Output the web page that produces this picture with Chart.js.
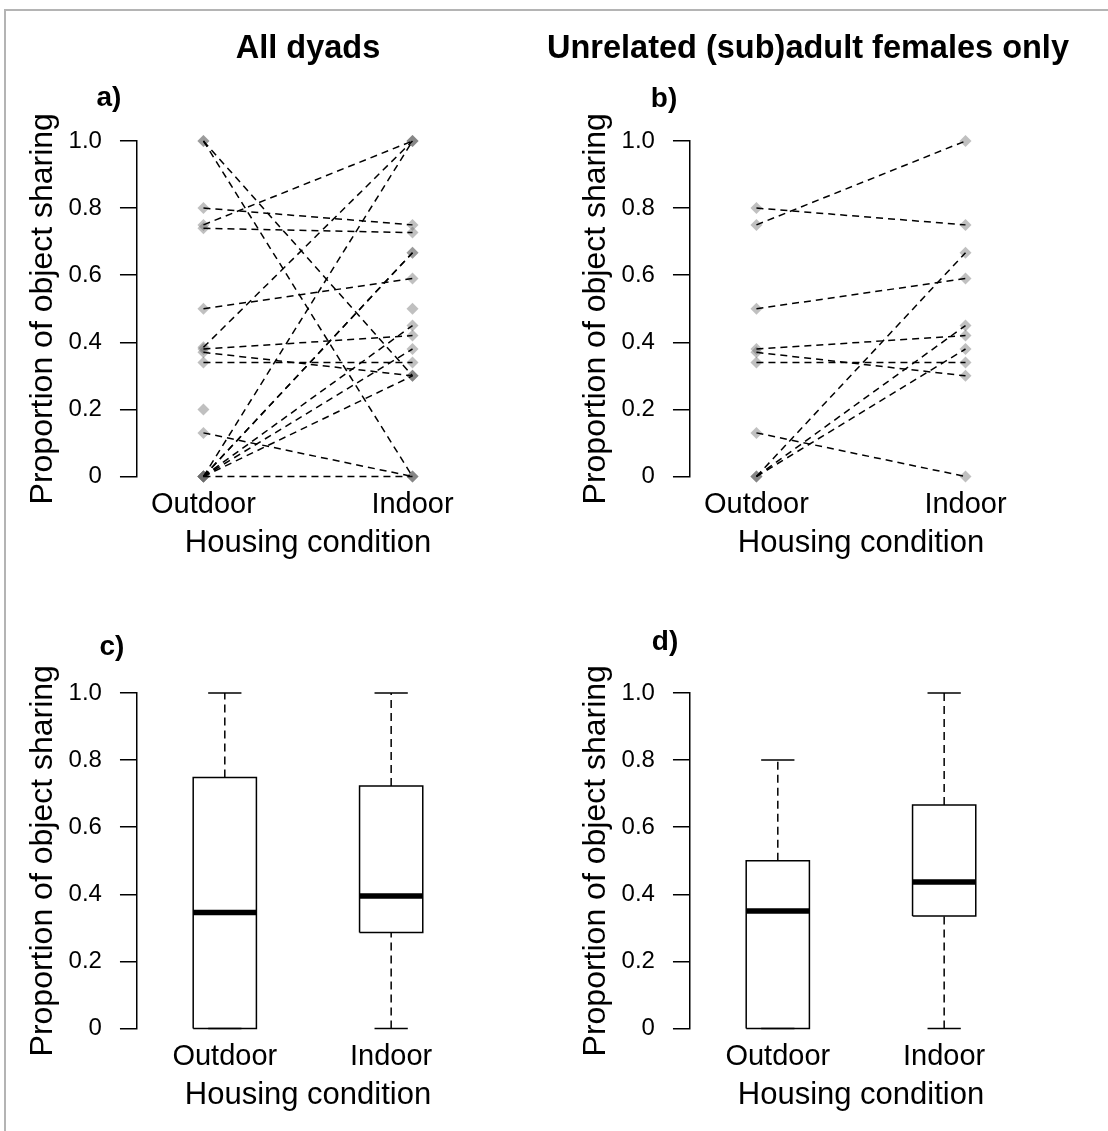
<!DOCTYPE html>
<html><head><meta charset="utf-8">
<script src="https://cdn.jsdelivr.net/npm/chart.js@4.4.1/dist/chart.umd.min.js"></script>
<style>
html,body{margin:0;padding:0;background:#fff;}
body{width:1108px;height:1131px;position:relative;overflow:hidden;font-family:"Liberation Sans",Arial,sans-serif;}
#frame{position:absolute;left:4px;top:9px;right:-4px;bottom:-4px;border-top:2px solid #b4b4b4;border-left:2px solid #b4b4b4;}
canvas{position:absolute;}
.lbl{position:absolute;font-weight:bold;color:#000;white-space:nowrap;transform:translate(-50%,-50%);line-height:1;}
</style></head><body>
<div id="frame"></div>
<canvas id="ca" width="554" height="575" style="left:0px;top:0px"></canvas>
<canvas id="cb" width="554" height="575" style="left:553px;top:0px"></canvas>
<canvas id="cc" width="554" height="575" style="left:0px;top:552px"></canvas>
<canvas id="cd" width="554" height="575" style="left:553px;top:552px"></canvas>
<div class="lbl" id="h1" style="left:308px;top:47px;font-size:32.5px"></div>
<div class="lbl" id="h2" style="left:808px;top:47px;font-size:32.5px"></div>
<div class="lbl" id="la" style="left:109px;top:97px;font-size:28px"></div>
<div class="lbl" id="lb" style="left:664px;top:98px;font-size:28px"></div>
<div class="lbl" id="lc" style="left:112px;top:646px;font-size:28px"></div>
<div class="lbl" id="ld" style="left:665px;top:641px;font-size:28px"></div>
<script>
// ---------- data ----------
const conditions = ['Outdoor', 'Indoor'];
const panelTitles = ['All dyads', 'Unrelated (sub)adult females only'];
const panelLetters = ['a)', 'b)', 'c)', 'd)'];
const yTicks = [0, 0.2, 0.4, 0.6, 0.8, 1.0];
const yTitle = 'Proportion of object sharing';
const xTitle = 'Housing condition';

// panel a: proportion of object sharing per dyad (null = not observed in that condition)
const allOutdoor = [1.0, 1.0, 0.80, 0.75, 0.74, 0.50, 0.385, 0.38, 0.37, 0.34, 0.13, 0, 0, 0, 0, 0, 0, 0, 0.20, null];
const allIndoor  = [0.0, 0.30, 0.75, 1.0, 0.727, 0.59, 1.0, 0.42, 0.30, 0.34, 0.0, 1.0, 0.667, 0.667, 0.45, 0.38, 0.30, 0.0, null, 0.50];

// panel b: unrelated (sub)adult female dyads only
const femOutdoor = [0.80, 0.75, 0.50, 0.38, 0.37, 0.34, 0.13, 0, 0, 0];
const femIndoor  = [0.75, 1.0, 0.59, 0.42, 0.30, 0.34, 0.0, 0.667, 0.45, 0.38];

// boxplots: [min, lower hinge, median, upper hinge, max]
const allBoxOutdoor = [0, 0, 0.346, 0.748, 1.0];
const allBoxIndoor  = [0, 0.286, 0.395, 0.723, 1.0];
const femBoxOutdoor = [0, 0, 0.35, 0.50, 0.80];
const femBoxIndoor  = [0, 0.335, 0.437, 0.666, 1.0];

// ---------- labels ----------
document.getElementById('h1').textContent = panelTitles[0];
document.getElementById('h2').textContent = panelTitles[1];
['la','lb','lc','ld'].forEach((id,i)=>document.getElementById(id).textContent = panelLetters[i]);

const FONT = '"Liberation Sans", Arial, sans-serif';

function yScale(){
  return {
    type:'linear', min:0, max:1,
    afterBuildTicks: s => { s.ticks = yTicks.map(v => ({value:v})); },
    ticks:{ callback: v => v === 0 ? '0' : Number(v).toFixed(1), font:{family:FONT,size:24}, color:'#000', padding:18 },
    grid:{ drawOnChartArea:false, drawTicks:true, tickLength:17, color:'#000', lineWidth:1.5 },
    border:{ display:true, color:'#000', width:1.5 },
    title:{ display:true, text:yTitle, font:{family:FONT,size:32}, color:'#000', padding:{top:3.8,bottom:-11.6} }
  };
}
function xScale(min, max){
  return {
    type:'linear', min:min, max:max,
    afterBuildTicks: s => { s.ticks = [{value:1},{value:2}]; },
    ticks:{ callback: v => conditions[Math.round(v)-1], font:{family:FONT,size:29}, color:'#000', padding:11.1, autoSkip:false, maxRotation:0 },
    grid:{ display:false, drawTicks:false },
    border:{ display:false },
    title:{ display:true, text:xTitle, font:{family:FONT,size:31}, color:'#000', padding:{top:-8.6,bottom:0} }
  };
}
function baseOptions(xmin, xmax){
  return {
    responsive:false, animation:false, devicePixelRatio:1,
    layout:{ padding:{ left:20, top:141, right:75, bottom:12.9 } },
    plugins:{ legend:{display:false}, tooltip:{enabled:false}, title:{display:false} },
    scales:{ x: xScale(xmin, xmax), y: yScale() }
  };
}

function pairChart(id, outdoor, indoor){
  const datasets = [];
  outdoor.forEach((o, i) => {
    const n = indoor[i];
    if (o !== null && n !== null) {
      datasets.push({ data:[{x:1,y:o},{x:2,y:n}], borderColor:'#000', borderWidth:1.5,
        borderDash:[7,5], pointRadius:0, fill:false, clip:false, order:0, tension:0 });
    }
  });
  const pts = [];
  outdoor.forEach(o => { if (o !== null) pts.push({x:1,y:o}); });
  indoor.forEach(n => { if (n !== null) pts.push({x:2,y:n}); });
  datasets.push({ data:pts, showLine:false, pointStyle:'rectRot', pointRadius:6,
    pointBackgroundColor:'rgba(105,105,105,0.42)', pointBorderWidth:0, clip:false, order:1 });
  new Chart(document.getElementById(id), { type:'line', data:{datasets}, options: baseOptions(0.682, 2.318) });
}

function boxChart(id, boxes){
  const hw = 0.19, sw = 0.1;
  const datasets = [];
  const common = { borderColor:'#000', pointRadius:0, fill:false, clip:false, tension:0 };
  boxes.forEach((b, i) => {
    const c = i + 1;
    const [mn, q1, md, q3, mx] = b;
    datasets.push(Object.assign({ data:[{x:c,y:q3},{x:c,y:mx}], borderWidth:1.5, borderDash:[8,5] }, common));
    datasets.push(Object.assign({ data:[{x:c,y:mn},{x:c,y:q1}], borderWidth:1.5, borderDash:[8,5] }, common));
    datasets.push(Object.assign({ data:[{x:c-sw,y:mx},{x:c+sw,y:mx}], borderWidth:1.5 }, common));
    datasets.push(Object.assign({ data:[{x:c-sw,y:mn},{x:c+sw,y:mn}], borderWidth:1.5 }, common));
    datasets.push(Object.assign({ data:[{x:c-hw,y:q1},{x:c+hw,y:q1},{x:c+hw,y:q3},{x:c-hw,y:q3},{x:c-hw,y:q1}], borderWidth:1.5 }, common));
    datasets.push(Object.assign({ data:[{x:c-hw,y:md},{x:c+hw,y:md}], borderWidth:5.5, borderCapStyle:'butt' }, common));
  });
  new Chart(document.getElementById(id), { type:'line', data:{datasets}, options: baseOptions(0.472, 2.528) });
}

pairChart('ca', allOutdoor, allIndoor);
pairChart('cb', femOutdoor, femIndoor);
boxChart('cc', [allBoxOutdoor, allBoxIndoor]);
boxChart('cd', [femBoxOutdoor, femBoxIndoor]);
</script>
</body></html>
